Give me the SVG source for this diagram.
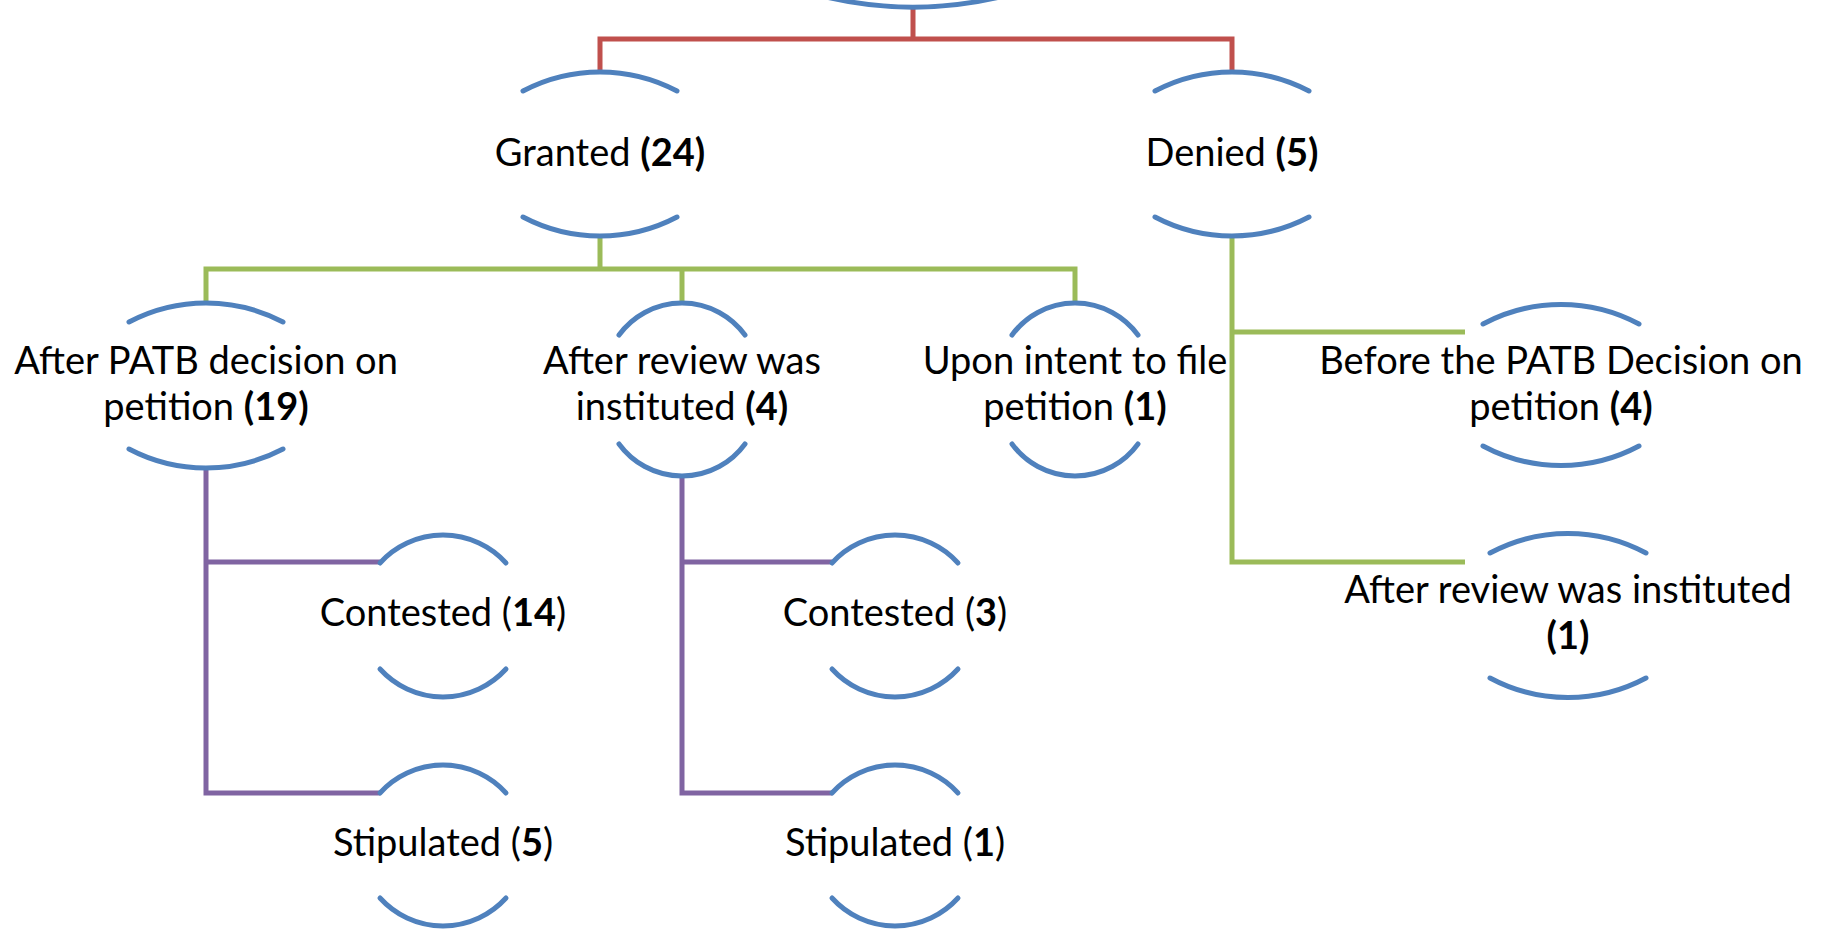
<svg xmlns="http://www.w3.org/2000/svg" width="1826" height="931" viewBox="0 0 1826 931">
<style>
.arc{fill:none;stroke:#4F81BD;stroke-width:5;stroke-linecap:round}
.c{fill:none;stroke-width:5;stroke-linejoin:miter}
.red{stroke:#C0504D}
.green{stroke:#9BBB59}
.purple{stroke:#8064A2}
.t{font-family:Lato,"Open Sans",sans-serif;font-size:38px;text-anchor:middle;fill:#000}
.b{font-weight:bold}
</style>
<rect width="1826" height="931" fill="#fff"/>
<g id="connectors">
<path class="c red" d="M600,71 V39 H1232 V71 M913,7 V39"/>
<path class="c green" d="M600,236 V269 M206,303 V269 H1075 V303 M682,269 V303 M1232,236 V562 H1465 M1232,332 H1465"/>
<path class="c purple" d="M206,468 V793 H380 M206,562 H380 M682,476 V793 H832 M682,562 H832"/>
</g>
<g id="root">
<path class="arc" d="M818,-5 A382,382 0 0 0 1008,-5"/>
</g>
<g id="granted">
<path class="arc" d="M523,91 A165.5,165.5 0 0 1 677,91 M523,217 A165.5,165.5 0 0 0 677,217"/>
<text class="t" x="600" y="166">Granted <tspan class="b">(24)</tspan></text>
</g>
<g id="denied">
<path class="arc" d="M1155,91 A165.5,165.5 0 0 1 1309,91 M1155,217 A165.5,165.5 0 0 0 1309,217"/>
<text class="t" x="1232" y="166">Denied <tspan class="b">(5)</tspan></text>
</g>
<g id="after-patb">
<path class="arc" d="M129,322 A165.5,165.5 0 0 1 283,322 M129,449 A165.5,165.5 0 0 0 283,449"/>
<text class="t" x="206" y="374">After PATB decision on</text>
<text class="t" x="206" y="420">petition <tspan class="b">(19)</tspan></text>
</g>
<g id="after-review-granted">
<path class="arc" d="M619,335 A78,78 0 0 1 745,335 M619,444 A78,78 0 0 0 745,444"/>
<text class="t" x="682" y="374">After review was</text>
<text class="t" x="682" y="420">instituted <tspan class="b">(4)</tspan></text>
</g>
<g id="upon-intent">
<path class="arc" d="M1012,335 A78,78 0 0 1 1138,335 M1012,444 A78,78 0 0 0 1138,444"/>
<text class="t" x="1075" y="374">Upon intent to file</text>
<text class="t" x="1075" y="420">petition <tspan class="b">(1)</tspan></text>
</g>
<g id="before-patb">
<path class="arc" d="M1483,324 A165.5,165.5 0 0 1 1639,324 M1483,446 A165.5,165.5 0 0 0 1639,446"/>
<text class="t" x="1561" y="374">Before the PATB Decision on</text>
<text class="t" x="1561" y="420">petition <tspan class="b">(4)</tspan></text>
</g>
<g id="after-review-denied">
<path class="arc" d="M1490,553 A165.5,165.5 0 0 1 1646,553 M1490,678 A165.5,165.5 0 0 0 1646,678"/>
<text class="t" x="1568" y="603">After review was instituted</text>
<text class="t" x="1568" y="649"><tspan class="b">(1)</tspan></text>
</g>
<g id="contested-14">
<path class="arc" d="M380,563 A85,85 0 0 1 506,563 M380,669 A85,85 0 0 0 506,669"/>
<text class="t" x="443" y="626">Contested (<tspan class="b">14</tspan>)</text>
</g>
<g id="stipulated-5">
<path class="arc" d="M380,793 A85,85 0 0 1 506,793 M380,898 A85,85 0 0 0 506,898"/>
<text class="t" x="443" y="856">Stipulated (<tspan class="b">5</tspan>)</text>
</g>
<g id="contested-3">
<path class="arc" d="M832,563 A85,85 0 0 1 958,563 M832,669 A85,85 0 0 0 958,669"/>
<text class="t" x="895" y="626">Contested (<tspan class="b">3</tspan>)</text>
</g>
<g id="stipulated-1">
<path class="arc" d="M832,793 A85,85 0 0 1 958,793 M832,898 A85,85 0 0 0 958,898"/>
<text class="t" x="895" y="856">Stipulated (<tspan class="b">1</tspan>)</text>
</g>
</svg>
